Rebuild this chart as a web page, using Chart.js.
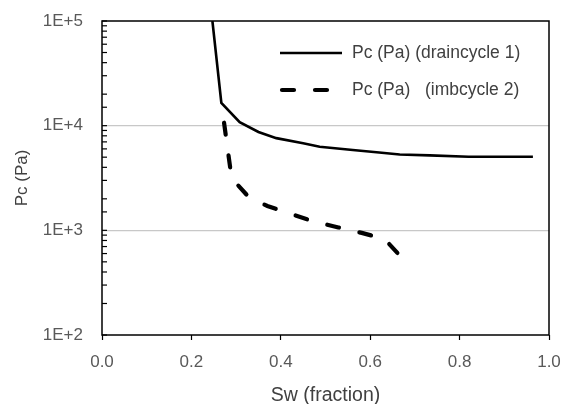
<!DOCTYPE html>
<html lang="en">
<head>
    <meta charset="UTF-8">
    <title>Pc vs Sw</title>
    <script src="https://cdn.jsdelivr.net/npm/chart.js"></script>
    <style>
        body { margin: 0; background: #fff; }
        #wrap { width: 571px; height: 404px; }
    </style>
</head>
<body>
<div id="wrap"><canvas id="pcChart" width="571" height="404"></canvas></div>
<script>
    // capillary pressure curves (Sw fraction, Pc in Pa)
    const drainSw = [0.247, 0.267, 0.308, 0.35, 0.39, 0.45, 0.487, 0.561, 0.62, 0.666, 0.733, 0.82, 0.964];
    const drainPc = [100000, 16500, 10800, 8700, 7600, 6800, 6300, 5860, 5550, 5300, 5200, 5050, 5050];
    const imbSw = [0.267, 0.290, 0.330, 0.370, 0.419, 0.470, 0.529, 0.581, 0.632, 0.670];
    const imbPc = [16500, 3150, 2040, 1710, 1450, 1230, 1066, 945, 828, 551];

    const seriesNames = ['Pc (Pa) (draincycle 1)', 'Pc (Pa)   (imbcycle 2)'];
    const xTicks = [0, 0.2, 0.4, 0.6, 0.8, 1.0];
    const yMajor = [100, 1000, 10000, 100000];

    const textColor = '#595959';
    const family = 'Liberation Sans';
    const tickFont = { family: family, size: 17 };

    const toPoints = (xs, ys) => xs.map((x, i) => ({ x: x, y: ys[i] }));

    // frame, inner log ticks and the legend
    const framePlugin = {
        id: 'frame',
        afterDraw(chart) {
            const ctx = chart.ctx;
            const a = chart.chartArea;
            const y = chart.scales.y;
            ctx.save();
            ctx.strokeStyle = '#000';
            ctx.lineWidth = 1.5;
            ctx.strokeRect(a.left, a.top, a.right - a.left, a.bottom - a.top);
            ctx.lineWidth = 1.2;
            y.ticks.forEach(t => {
                const py = y.getPixelForValue(t.value);
                ctx.beginPath();
                ctx.moveTo(a.left, py);
                ctx.lineTo(a.left + 5, py);
                ctx.stroke();
            });

            // legend
            const rows = [53, 90];
            chart.data.datasets.forEach((ds, i) => {
                ctx.strokeStyle = ds.borderColor;
                ctx.lineWidth = ds.borderWidth;
                ctx.lineCap = ds.borderCapStyle || 'butt';
                ctx.setLineDash(ds.borderDash || []);
                ctx.lineDashOffset = 0;
                ctx.beginPath();
                if (ds.borderDash) {
                    ctx.moveTo(282, rows[i]);
                    ctx.lineTo(333, rows[i]);
                } else {
                    ctx.moveTo(280, rows[i]);
                    ctx.lineTo(342, rows[i]);
                }
                ctx.stroke();
                ctx.setLineDash([]);
                ctx.fillStyle = '#404040';
                ctx.font = '17.5px ' + family;
                ctx.textBaseline = 'middle';
                ctx.textAlign = 'left';
                ctx.fillText(ds.label, 352, rows[i]);
            });
            ctx.restore();
        }
    };

    new Chart(document.getElementById('pcChart'), {
        type: 'scatter',
        data: {
            datasets: [
                {
                    label: seriesNames[0],
                    data: toPoints(drainSw, drainPc),
                    showLine: true,
                    borderColor: '#000',
                    borderWidth: 2.6,
                    pointRadius: 0,
                    tension: 0
                },
                {
                    label: seriesNames[1],
                    data: toPoints(imbSw, imbPc),
                    showLine: true,
                    borderColor: '#000',
                    borderWidth: 4.2,
                    borderDash: [12, 21],
                    borderDashOffset: 13,
                    borderCapStyle: 'round',
                    pointRadius: 0,
                    tension: 0
                }
            ]
        },
        options: {
            responsive: false,
            animation: false,
            layout: { padding: { top: 21, right: 22, left: 0, bottom: 0 } },
            plugins: {
                legend: { display: false },
                tooltip: { enabled: false }
            },
            scales: {
                x: {
                    type: 'linear',
                    min: 0,
                    max: 1,
                    afterBuildTicks(scale) {
                        scale.ticks = xTicks.map(v => ({ value: v }));
                    },
                    afterFit(scale) {
                        scale.height = 69;
                        scale.paddingLeft = 0;
                        scale.paddingRight = 0;
                    },
                    grid: {
                        drawOnChartArea: false,
                        drawTicks: true,
                        tickLength: 5,
                        tickColor: '#000',
                        tickWidth: 1.2
                    },
                    border: { display: false },
                    ticks: {
                        color: textColor,
                        font: tickFont,
                        padding: 12,
                        callback: v => v.toFixed(1)
                    },
                    title: {
                        display: true,
                        text: 'Sw (fraction)',
                        color: '#404040',
                        font: { family: family, size: 19.5, lineHeight: 0.9 },
                        padding: { top: 0, bottom: 0 }
                    }
                },
                y: {
                    type: 'logarithmic',
                    min: 100,
                    max: 100000,
                    afterFit(scale) {
                        scale.width = 102;
                        scale.paddingTop = 0;
                        scale.paddingBottom = 0;
                    },
                    grid: {
                        drawTicks: false,
                        lineWidth: 1.2,
                        color: ctx => {
                            const v = ctx.tick && ctx.tick.value;
                            return (v === 1000 || v === 10000) ? '#c8c8c8' : 'rgba(0,0,0,0)';
                        }
                    },
                    border: { display: false },
                    ticks: {
                        color: textColor,
                        font: tickFont,
                        padding: 19,
                        autoSkip: false,
                        callback: v => yMajor.includes(v) ? '1E+' + Math.round(Math.log10(v)) : ''
                    },
                    title: {
                        display: true,
                        text: 'Pc (Pa)',
                        color: '#404040',
                        font: { family: family, size: 17, lineHeight: 1.2 },
                        padding: { top: 12, bottom: 0 }
                    }
                }
            }
        },
        plugins: [framePlugin]
    });
</script>
</body>
</html>
